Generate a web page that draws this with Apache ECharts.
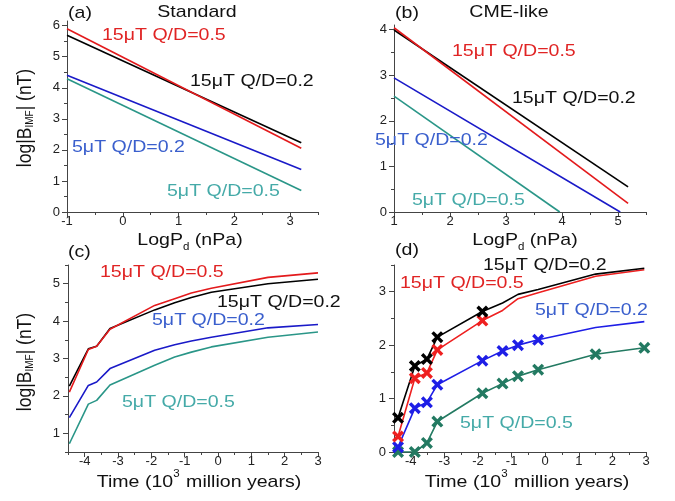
<!DOCTYPE html>
<html><head><meta charset="utf-8">
<script src="https://cdn.jsdelivr.net/npm/echarts@6/dist/echarts.min.js"></script>
<style>html,body{margin:0;padding:0;background:#fff}#c{width:675px;height:501px}</style>
</head><body><div id="c"></div><script>
// ---- Panel (a) Standard: log|B_IMF| vs LogPd ----
const aX = [-1, 3.2];
const aRed15_05 = [5.90, 2.05];
const aBlack15_02 = [5.69, 2.23];
const aBlue5_02 = [4.40, 1.37];
const aTeal5_05 = [4.29, 0.69];

// ---- Panel (b) CME-like ----
const bXRed = [1, 5.18];   const bRed15_05 = [4.04, 0.19];
const bXBlack = [1, 5.18]; const bBlack15_02 = [3.99, 0.55];
const bXBlue = [1, 5.04];  const bBlue5_02 = [2.94, 0.0];
const bXTeal = [1, 3.96];  const bTeal5_05 = [2.54, 0.0];

// ---- Panel (c) vs time ----
const cT = [-4.46, -3.89, -3.64, -3.24, -1.9, -1.3, -0.8, -0.2, 1.5, 3];
const cRed15_05 = [2.10, 3.24, 3.33, 3.78, 4.42, 4.60, 4.75, 4.88, 5.17, 5.29];
const cBlack15_02 = [2.26, 3.26, 3.33, 3.80, 4.30, 4.49, 4.63, 4.77, 5.00, 5.12];
const cBlue5_02 = [1.42, 2.28, 2.37, 2.73, 3.22, 3.37, 3.47, 3.57, 3.82, 3.91];
const cTeal5_05 = [0.72, 1.78, 1.88, 2.29, 2.82, 3.04, 3.17, 3.31, 3.57, 3.71];

// ---- Panel (d) vs time (with markers) ----
const dT = [-4.38, -3.88, -3.52, -3.21, -1.87, -1.27, -0.81, -0.21, 1.5, 2.95];
const dBlack15_02 = [0.64, 1.61, 1.74, 2.15, 2.63, 2.79, 2.95, 3.04, 3.33, 3.44];
const dRed15_05 = [0.29, 1.38, 1.48, 1.91, 2.46, 2.65, 2.87, 2.98, 3.29, 3.41];
const dBlue5_02 = [0.09, 0.82, 0.93, 1.26, 1.71, 1.89, 2.00, 2.10, 2.33, 2.44];
const dTeal5_05 = [0.00, 0.00, 0.17, 0.57, 1.10, 1.28, 1.42, 1.54, 1.83, 1.95];
const dBlackMarked = 5, dRedMarked = 5, dBlueMarked = 8, dTealMarked = 10;

// ---- tick labels ----
const aXTicks = [-1, 0, 1, 2, 3];
const aYTicks = [0, 1, 2, 3, 4, 5, 6];
const bXTicks = [1, 2, 3, 4, 5];
const bYTicks = [0, 1, 2, 3, 4];
const tTicks = [-4, -3, -2, -1, 0, 1, 2, 3];
const cYTicks = [1, 2, 3, 4, 5];
const dYTicks = [0, 1, 2, 3];

const seriesNames = ['15\u03bcT Q/D=0.5', '15\u03bcT Q/D=0.2', '5\u03bcT Q/D=0.2', '5\u03bcT Q/D=0.5'];

const FONT = '"Liberation Sans", Arial, sans-serif';
const AX = '#444';
const C = {red:'#e31a1c', black:'#000000', blue:'#1a1ac8', teal:'#2a9688'};
const CD = {red:'#ee2020', black:'#000000', blue:'#1e1ee6', teal:'#237a62'};
const T = {red:'#e02424', black:'#111111', blue:'#3a5fcd', teal:'#45aaa8'};

function halves(min, max){ const r=[]; for(let v=Math.ceil(min*2)/2; v<=max+1e-9; v+=0.5){ if(Math.abs(v-Math.round(v))>1e-6) r.push(+v.toFixed(2)); } return r; }

function axes(dim, g, min, max, majors, labMargin){
  const pos = dim==='x' ? 'bottom' : 'left';
  const main = {type:'value', gridIndex:g, position:pos, min, max, interval:0.5,
    splitLine:{show:false},
    axisLine:{show:true, onZero:false, lineStyle:{color:AX, width:1}},
    axisTick:{show:true, customValues:majors, length:5, lineStyle:{color:AX}},
    axisLabel:{show:true, customValues:majors, margin:labMargin, fontSize:13, color:'#222', fontFamily:FONT}};
  const minor = {type:'value', gridIndex:g, position:pos, min, max, interval:0.5,
    splitLine:{show:false},
    axisLine:{show:false, onZero:false},
    axisTick:{show:true, customValues:halves(min,max), length:3, lineStyle:{color:AX}},
    axisLabel:{show:false}};
  return [main, minor];
}

const grids = [
  {left:67, top:21, width:251, height:191},
  {left:394, top:25, width:252, height:187},
  {left:68, top:265, width:250, height:187},
  {left:394, top:265, width:252, height:187}
];
grids.forEach(g=>{ g.containLabel=false; g.outerBoundsMode='none'; });

const xAxis = [].concat(
  axes('x',0,-1,3.5,aXTicks,3), axes('x',1,1,5.5,bXTicks,3),
  axes('x',2,-4.5,3,tTicks,3), axes('x',3,-4.5,3,tTicks,3));
const yAxis = [].concat(
  axes('y',0,0,6.15,aYTicks,7), axes('y',1,0,4.1,bYTicks,7),
  axes('y',2,0.5,5.5,cYTicks,8), axes('y',3,0,3.5,dYTicks,8));

function pairs(xs, ys){ return xs.map((x,i)=>[x, ys[i]]); }
function line(name, g, xs, ys, color){
  return {type:'line', name, xAxisIndex:2*g, yAxisIndex:2*g, data:pairs(xs,ys),
    showSymbol:false, symbol:'none', lineStyle:{color, width:1.6}, itemStyle:{color}, animation:false, silent:true};
}
const XPATH = 'path://M2,0 L5,3 L8,0 L10,2 L7,5 L10,8 L8,10 L5,7 L2,10 L0,8 L3,5 L0,2 Z';
function markedLine(name, xs, ys, nMarked, color){
  return {type:'line', name, xAxisIndex:6, yAxisIndex:6,
    data: xs.map((x,i)=>({value:[x, ys[i]], symbol: i<nMarked ? XPATH : 'none'})),
    showSymbol:true, symbol:XPATH, symbolSize:12, lineStyle:{color, width:1.6},
    itemStyle:{color}, animation:false, silent:true};
}

const series = [
  line(seriesNames[1],0,aX,aBlack15_02,C.black), line(seriesNames[0],0,aX,aRed15_05,C.red),
  line(seriesNames[2],0,aX,aBlue5_02,C.blue), line(seriesNames[3],0,aX,aTeal5_05,C.teal),
  line(seriesNames[1],1,bXBlack,bBlack15_02,C.black), line(seriesNames[0],1,bXRed,bRed15_05,C.red),
  line(seriesNames[2],1,bXBlue,bBlue5_02,C.blue), line(seriesNames[3],1,bXTeal,bTeal5_05,C.teal),
  line(seriesNames[1],2,cT,cBlack15_02,C.black), line(seriesNames[0],2,cT,cRed15_05,C.red),
  line(seriesNames[2],2,cT,cBlue5_02,C.blue), line(seriesNames[3],2,cT,cTeal5_05,C.teal),
  markedLine(seriesNames[3],dT,dTeal5_05,dTealMarked,CD.teal),
  markedLine(seriesNames[2],dT,dBlue5_02,dBlueMarked,CD.blue),
  markedLine(seriesNames[0],dT,dRed15_05,dRedMarked,CD.red),
  markedLine(seriesNames[1],dT,dBlack15_02,dBlackMarked,CD.black)
];

const SX = 1.15;
function txt(text, x, y, fill, align, opts){
  opts = opts || {};
  return {type:'text', x, y, scaleX: opts.rot ? 1 : SX, scaleY: opts.rot ? SX : 1, rotation: opts.rot||0, silent:true, z:100,
    style:{text, fill, font:(opts.size||17)+'px '+FONT, fontSize:opts.size||17, fontFamily:FONT,
      align, textAlign:align, verticalAlign:'middle', textVerticalAlign:'middle', rich:opts.rich}};
}
const subRich = {s:{fontSize:10, fontFamily:FONT, fill:'#111', verticalAlign:'bottom', padding:[0,0,-4,0]}};
const supRich = {p:{fontSize:10, fontFamily:FONT, fill:'#111', verticalAlign:'top', padding:[-4,1,0,0]}};
const ylabRich = {s:{fontSize:10, fontFamily:FONT, fill:'#111', verticalAlign:'bottom'}};

const graphic = [
  txt('(a)', 68, 13, '#111', 'left'), txt('Standard', 197, 12, '#111', 'center'),
  txt('(b)', 395, 13, '#111', 'left'), txt('CME-like', 509, 12, '#111', 'center'),
  txt('(c)', 68, 252, '#111', 'left'), txt('(d)', 395, 250, '#111', 'left'),
  // panel a annotations
  txt(seriesNames[0], 102, 35, T.red, 'left'), txt(seriesNames[1], 190, 81, T.black, 'left'),
  txt(seriesNames[2], 72, 147, T.blue, 'left'), txt(seriesNames[3], 167, 191, T.teal, 'left'),
  // panel b
  txt(seriesNames[0], 452, 51, T.red, 'left'), txt(seriesNames[1], 512, 98, T.black, 'left'),
  txt(seriesNames[2], 375, 140, T.blue, 'left'), txt(seriesNames[3], 412, 200, T.teal, 'left'),
  // panel c
  txt(seriesNames[0], 100, 272, T.red, 'left'), txt(seriesNames[1], 217, 302, T.black, 'left'),
  txt(seriesNames[2], 152, 320, T.blue, 'left'), txt(seriesNames[3], 122, 402, T.teal, 'left'),
  // panel d
  txt(seriesNames[1], 483, 265, T.black, 'left'), txt(seriesNames[0], 400, 283, T.red, 'left'),
  txt(seriesNames[2], 535, 310, T.blue, 'left'), txt(seriesNames[3], 460, 423, T.teal, 'left'),
  // axis titles
  txt('LogP{s|d} (nPa)', 190, 240, '#111', 'center', {rich:subRich}),
  txt('LogP{s|d} (nPa)', 525, 240, '#111', 'center', {rich:subRich}),
  txt('Time (10{p|3} million years)', 199, 482, '#111', 'center', {rich:supRich}),
  txt('Time (10{p|3} million years)', 527, 482, '#111', 'center', {rich:supRich}),
  txt('log|B{s|IMF}| (nT)', 25, 118, '#111', 'center', {rot:Math.PI/2, size:17.5, rich:ylabRich}),
  txt('log|B{s|IMF}| (nT)', 25, 362, '#111', 'center', {rot:Math.PI/2, size:17.5, rich:ylabRich})
];

const chart = echarts.init(document.getElementById('c'), null, {renderer:'canvas'});
chart.setOption({backgroundColor:'#fff', animation:false, grid:grids, xAxis, yAxis, series, graphic});
</script></body></html>
